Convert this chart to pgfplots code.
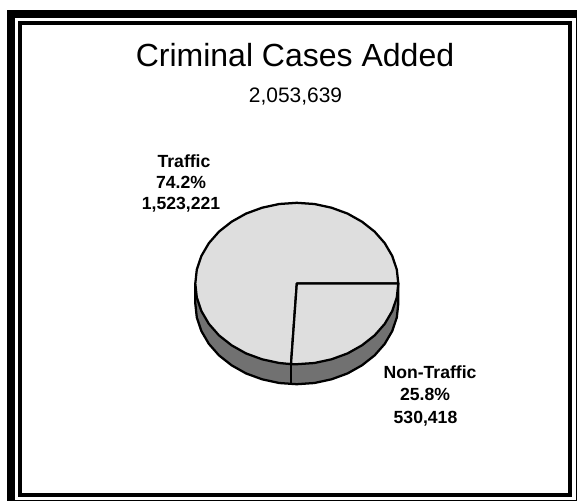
\documentclass[border=0pt]{standalone}
\usepackage{fontspec}
\setmainfont{Liberation Sans}
\usepackage{pgfplots}
\pgfplotsset{compat=1.18}
\definecolor{pielight}{HTML}{DEDEDE}
\definecolor{piedark}{HTML}{717171}

\begin{document}
\begin{tikzpicture}
\begin{axis}[
    at={(0,0)}, anchor=south west,
    scale only axis,
    width=432.75pt, height=375pt,
    xmin=0, xmax=577,
    ymin=0, ymax=500,
    y dir=reverse,
    hide axis,
  ]

  % double frame, outer one runs off the page on the right and bottom
  \addplot[black, line width=6pt, line join=miter, no markers] coordinates {
      (11,14) (580,14) (580,504) (11,504) (11,14) (20,14)
    };
  \addplot[black, line width=3pt, line join=miter, no markers] coordinates {
      (20,23) (570,23) (570,494.5) (20,494.5) (20,23) (30,23)
    };

  % side wall of the pie
  \addplot[fill=piedark, draw=black, line width=1.7pt, line join=round, no markers] coordinates {
      (398.3,283.5) (398.3,303.5) (396.8,317.5) (392.2,331.1) (384.7,343.9)
      (374.6,355.4) (362.0,365.3) (347.6,373.4) (331.5,379.3) (314.4,383.0)
      (296.8,384.2) (279.2,383.0) (262.1,379.3) (246.0,373.4) (231.6,365.3)
      (219.0,355.4) (208.9,343.9) (201.4,331.1) (196.8,317.5) (195.3,303.5)
      (195.3,283.5)
    } -- cycle;
  \addplot[black, line width=1.7pt, no markers] coordinates {(291,364) (291,384)};

  % Traffic 74.2%
  \addplot[fill=pielight, draw=black, line width=1.7pt, line join=round, no markers] coordinates {
      (296.8,283.5) (291,364.1) (279.2,363.0) (262.1,359.3) (246.0,353.4)
      (231.6,345.3) (219.0,335.4) (208.9,323.9) (201.4,311.1) (196.8,297.5)
      (195.3,283.5) (196.8,269.5) (201.4,255.9) (208.9,243.1) (219.0,231.6)
      (231.6,221.7) (246.0,213.6) (262.1,207.7) (279.2,204.0) (296.8,202.8)
      (314.4,204.0) (331.5,207.7) (347.6,213.6) (362.0,221.7) (374.6,231.6)
      (384.7,243.1) (392.2,255.9) (396.8,269.5) (398.3,283.5)
    } -- cycle;

  % Non-Traffic 25.8%
  \addplot[fill=pielight, draw=black, line width=1.7pt, line join=round, no markers] coordinates {
      (296.8,283.5) (398.3,283.5) (396.8,297.5) (392.2,311.1) (384.7,323.9)
      (374.6,335.4) (362.0,345.3) (347.6,353.4) (331.5,359.3) (314.4,363.0)
      (296.8,364.2) (291,364.1)
    } -- cycle;

  % titles
  \node[anchor=base, font=\fontsize{24}{24}\selectfont] at (axis cs:295,66) {Criminal Cases Added};
  \node[anchor=base, font=\fontsize{15.7}{16}\selectfont] at (axis cs:295.5,102.7) {2,053,639};

  % slice labels
  \node[anchor=base, font=\fontsize{13.2}{14}\selectfont\bfseries] at (axis cs:184,167.5) {Traffic};
  \node[anchor=base, font=\fontsize{13.2}{14}\selectfont\bfseries] at (axis cs:181,188) {74.2\%};
  \node[anchor=base, font=\fontsize{13.2}{14}\selectfont\bfseries] at (axis cs:181,209) {1,523,221};
  \node[anchor=base, font=\fontsize{13.2}{14}\selectfont\bfseries] at (axis cs:430,378.5) {Non-Traffic};
  \node[anchor=base, font=\fontsize{13.2}{14}\selectfont\bfseries] at (axis cs:425,400.5) {25.8\%};
  \node[anchor=base, font=\fontsize{13.2}{14}\selectfont\bfseries] at (axis cs:425.5,423.5) {530,418};
\end{axis}
\pgfresetboundingbox
\useasboundingbox (0,0) rectangle (432.75pt,375pt);
\end{tikzpicture}
\end{document}
